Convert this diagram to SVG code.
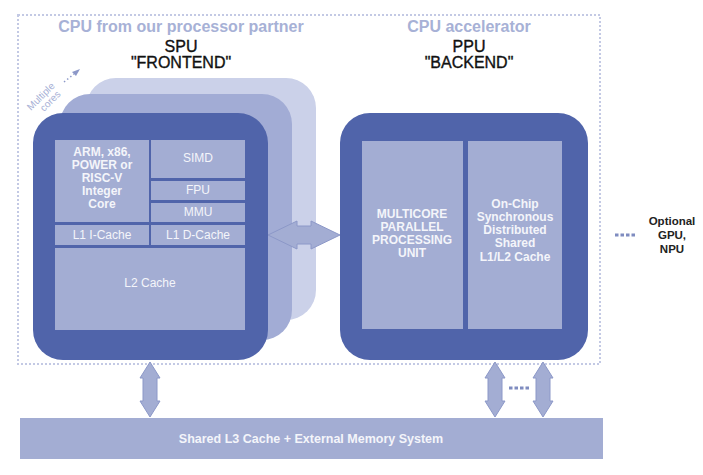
<svg xmlns="http://www.w3.org/2000/svg" width="703" height="475" viewBox="0 0 703 475">
<style>
.frame{fill:none;stroke:#c3c9e4;stroke-width:2;stroke-dasharray:2 2}
.outer{fill:#5064aa}
.inner{fill:#a3add3}
.lbl{fill:#f4f5fa;font-size:12px;text-anchor:middle;font-family:"Liberation Sans",Arial,sans-serif}
.b{font-weight:bold}
.hd{fill:#a7b1d6;font-size:16px;font-weight:bold;text-anchor:middle;font-family:"Liberation Sans",Arial,sans-serif}
.ttl{fill:#111;stroke:#111;stroke-width:0.35;font-size:16px;text-anchor:middle;font-family:"Liberation Sans",Arial,sans-serif}
.arr{fill:#a3add3;stroke:#8c98c8;stroke-width:1}
.opt{font-family:"Liberation Sans",Arial,sans-serif;font-size:11.5px;font-weight:bold;fill:#222;text-anchor:middle}
</style>
<rect width="703" height="475" fill="#ffffff"/>
<rect class="frame" x="18" y="15" width="582" height="349"/>

<g id="titles">
<text class="hd" x="181" y="32">CPU from our processor partner</text>
<text class="ttl" x="181" y="52">SPU</text>
<text class="ttl" x="181" y="68">"FRONTEND"</text>
<text class="hd" x="469" y="32">CPU accelerator</text>
<text class="ttl" x="469" y="52">PPU</text>
<text class="ttl" x="469" y="68">"BACKEND"</text>
</g>

<g id="multiple-cores">
<text x="0" y="0" transform="translate(31,111) rotate(-45)" font-family="Liberation Sans, Arial, sans-serif" font-size="10" fill="#a7b1d6">Multiple</text>
<text x="0" y="0" transform="translate(44,112) rotate(-45)" font-family="Liberation Sans, Arial, sans-serif" font-size="10" fill="#a7b1d6">cores</text>
<line x1="64" y1="82" x2="74" y2="74" stroke="#8c98c8" stroke-width="1.5" stroke-dasharray="1.5 2.5"/>
<path d="M80,69 L72,72 L76,76 Z" fill="#8c98c8"/>
</g>

<g id="spu">
<rect x="86" y="78" width="230" height="242" rx="30" fill="#cbd1e9"/>
<rect x="60" y="94" width="232" height="246" rx="30" fill="#a2acd5"/>
<rect class="outer" x="33" y="113" width="235" height="247" rx="30"/>
<rect class="inner" x="55" y="140" width="94" height="82"/>
<text class="lbl b" x="102" y="156" font-size="12.5">ARM, x86,</text>
<text class="lbl b" x="102" y="169" font-size="12.5">POWER or</text>
<text class="lbl b" x="102" y="182" font-size="12.5">RISC-V</text>
<text class="lbl b" x="102" y="195" font-size="12.5">Integer</text>
<text class="lbl b" x="102" y="208" font-size="12.5">Core</text>
<rect class="inner" x="151" y="140" width="94" height="38"/>
<text class="lbl" x="198" y="162">SIMD</text>
<rect class="inner" x="151" y="181" width="94" height="19"/>
<text class="lbl" x="198" y="194">FPU</text>
<rect class="inner" x="151" y="203" width="94" height="19"/>
<text class="lbl" x="198" y="216">MMU</text>
<rect class="inner" x="55" y="225" width="94" height="20"/>
<text class="lbl" x="102" y="239">L1 I-Cache</text>
<rect class="inner" x="151" y="225" width="94" height="20"/>
<text class="lbl" x="198" y="239">L1 D-Cache</text>
<rect class="inner" x="55" y="248" width="190" height="82"/>
<text class="lbl" x="150" y="287">L2 Cache</text>
</g>

<g id="ppu">
<rect class="outer" x="340" y="113" width="248" height="247" rx="30"/>
<rect class="inner" x="362" y="141" width="101" height="188"/>
<text class="lbl b" x="412" y="218">MULTICORE</text>
<text class="lbl b" x="412" y="231">PARALLEL</text>
<text class="lbl b" x="412" y="244">PROCESSING</text>
<text class="lbl b" x="412" y="257">UNIT</text>
<rect class="inner" x="468" y="141" width="94" height="188"/>
<text class="lbl b" x="515" y="208">On-Chip</text>
<text class="lbl b" x="515" y="221">Synchronous</text>
<text class="lbl b" x="515" y="234">Distributed</text>
<text class="lbl b" x="515" y="247">Shared</text>
<text class="lbl b" x="515" y="261">L1/L2 Cache</text>
</g>

<g id="optional">
<text class="opt" x="672" y="225">Optional</text>
<text class="opt" x="672" y="239">GPU,</text>
<text class="opt" x="672" y="253">NPU</text>
<line x1="615" y1="235" x2="637" y2="235" stroke="#7f8cc0" stroke-width="3" stroke-dasharray="3.5 2"/>
</g>

<g id="memory">
<rect x="20" y="418" width="583" height="41" fill="#a3add3"/>
<text x="311" y="443" font-family="Liberation Sans, Arial, sans-serif" font-size="12.5" font-weight="bold" fill="#f4f5fa" text-anchor="middle">Shared L3 Cache + External Memory System</text>
</g>

<g id="connectors">
<path class="arr" d="M268,235 L297,221 L297,226 L311,226 L311,221 L340,235 L311,249 L311,244 L297,244 L297,249 Z"/>
<path class="arr" d="M150,362 L160,378 L157,378 L157,401 L160,401 L150,417 L140,401 L143,401 L143,378 L140,378 Z"/>
<path class="arr" d="M495,362 L505,378 L502,378 L502,401 L505,401 L495,417 L485,401 L488,401 L488,378 L485,378 Z"/>
<path class="arr" d="M543,362 L553,378 L550,378 L550,401 L553,401 L543,417 L533,401 L536,401 L536,378 L533,378 Z"/>
<line x1="509" y1="388" x2="529" y2="388" stroke="#7f8cc0" stroke-width="3" stroke-dasharray="3.5 2"/>
</g>
</svg>
